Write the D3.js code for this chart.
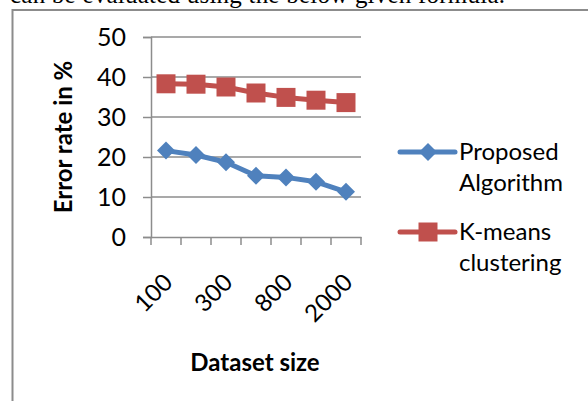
<!DOCTYPE html>
<html>
<head>
<meta charset="utf-8">
<script src="https://cdn.jsdelivr.net/npm/d3@7"></script>
<style>
  body { margin: 0; background: #fff; }
  svg { display: block; }
</style>
</head>
<body>
<div id="chart"></div>
<script>
// data
const categories = ['100', '200', '300', '500', '800', '1000', '2000'];
const shownLabels = ['100', '300', '800', '2000'];
const proposed = [21.6, 20.5, 18.7, 15.3, 14.9, 13.8, 11.3];
const kmeans = [38.3, 38.2, 37.5, 36.0, 34.9, 34.2, 33.6];
const yTicks = [0, 10, 20, 30, 40, 50];
const seriesNames = [['Proposed', 'Algorithm'], ['K-means', 'clustering']];

const width = 588;
const height = 401;
const font = 'Lato, Calibri, sans-serif';

const svg = d3.select('#chart')
  .append('svg')
  .attr('width', width)
  .attr('height', height);

// text of the page above the chart (cut off at the top, as in the source)
svg.append('text')
  .attr('x', 10)
  .attr('y', 3)
  .attr('textLength', 495)
  .style('font-family', '"Liberation Serif", "Times New Roman", serif')
  .style('font-size', '25px')
  .style('fill', '#000')
  .text('can be evaluated using the below given formula.');

// chart frame
svg.append('path')
  .attr('d', `M12.5,${height} V10 H${width}`)
  .attr('fill', 'none')
  .attr('stroke', '#8c8c8c')
  .attr('stroke-width', 2);

const x = d3.scaleBand()
  .domain(categories)
  .range([151, 361])
  .padding(0);

const y = d3.scaleLinear()
  .domain([0, 50])
  .range([237, 37]);

// gridlines
svg.append('g')
  .selectAll('line')
  .data(yTicks.filter(d => d > 0))
  .enter()
  .append('line')
  .attr('x1', 151)
  .attr('x2', 361)
  .attr('y1', d => y(d))
  .attr('y2', d => y(d))
  .attr('stroke', '#8c8c8c')
  .attr('stroke-width', 1.5);

// y axis
const yAxis = svg.append('g')
  .attr('transform', 'translate(151,0)')
  .call(d3.axisLeft(y).tickValues(yTicks).tickSize(8).tickPadding(17));
yAxis.select('.domain').attr('stroke', '#8c8c8c').attr('stroke-width', 1.5);
yAxis.selectAll('.tick line').attr('stroke', '#8c8c8c').attr('stroke-width', 1.5);
yAxis.selectAll('text')
  .style('font-family', font)
  .style('font-size', '25px')
  .style('fill', '#000');

// x axis
const xAxis = svg.append('g')
  .attr('transform', 'translate(0,237)')
  .call(d3.axisBottom(x).tickSize(0).tickFormat(''));
xAxis.select('.domain').attr('stroke', '#8c8c8c').attr('stroke-width', 1.5);

// x tick marks at band edges
svg.append('g')
  .selectAll('line')
  .data(categories.concat(['end']))
  .enter()
  .append('line')
  .attr('x1', (d, i) => i < categories.length ? x(d) : x.range()[1])
  .attr('x2', (d, i) => i < categories.length ? x(d) : x.range()[1])
  .attr('y1', 237)
  .attr('y2', 245)
  .attr('stroke', '#8c8c8c')
  .attr('stroke-width', 1.5);

// rotated category labels, only every other one shown
svg.append('g')
  .selectAll('text')
  .data(shownLabels)
  .enter()
  .append('text')
  .attr('transform', d => `translate(${x(d) + x.bandwidth() / 2 + 8},${284}) rotate(-45)`)
  .style('text-anchor', 'end')
  .style('font-family', font)
  .style('font-size', '24px')
  .style('fill', '#000')
  .text(d => d);

// axis titles
svg.append('text')
  .attr('transform', 'translate(72,137) rotate(-90)')
  .style('text-anchor', 'middle')
  .style('font-family', font)
  .style('font-size', '24px')
  .style('font-weight', 'bold')
  .text('Error rate in %');

svg.append('text')
  .attr('x', 255)
  .attr('y', 371)
  .style('text-anchor', 'middle')
  .style('font-family', font)
  .style('font-size', '24px')
  .style('font-weight', 'bold')
  .text('Dataset size');

const line = d3.line()
  .x((d, i) => x(categories[i]) + x.bandwidth() / 2)
  .y(d => y(d));

const colors = ['#4f81bd', '#c0504d'];
const seriesData = [proposed, kmeans];

const diamond = 'M0,-9 L9,0 L0,9 L-9,0 Z';
const square = 'M-9.5,-9.5 H9.5 V9.5 H-9.5 Z';
const shapes = [diamond, square];

seriesData.forEach((values, s) => {
  svg.append('path')
    .datum(values)
    .attr('d', line)
    .attr('fill', 'none')
    .attr('stroke', colors[s])
    .attr('stroke-width', 5)
    .attr('stroke-linejoin', 'round');

  svg.append('g')
    .selectAll('path')
    .data(values)
    .enter()
    .append('path')
    .attr('transform', (d, i) => `translate(${x(categories[i]) + x.bandwidth() / 2},${y(d)})`)
    .attr('d', shapes[s])
    .attr('fill', colors[s]);
});

// legend
const legendY = [152, 232];
seriesNames.forEach((names, s) => {
  const g = svg.append('g').attr('transform', `translate(400,${legendY[s]})`);
  g.append('line')
    .attr('x1', 0)
    .attr('x2', 55)
    .attr('stroke', colors[s])
    .attr('stroke-width', 5)
    .attr('stroke-linecap', 'round');
  g.append('path')
    .attr('transform', 'translate(28,0)')
    .attr('d', shapes[s])
    .attr('fill', colors[s]);
  names.forEach((t, k) => {
    g.append('text')
      .attr('x', 59)
      .attr('y', 8 + k * 31)
      .style('font-family', font)
      .style('font-size', '24px')
      .style('fill', '#000')
      .text(t);
  });
});
</script>
</body>
</html>
